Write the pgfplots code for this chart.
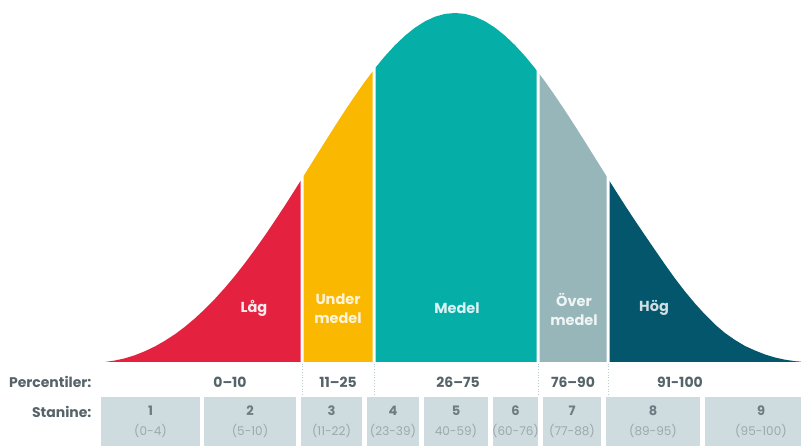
\documentclass[border=0pt]{standalone}
\usepackage{fontspec}
\setmainfont{Poppins}
\usepackage{pgfplots}
\pgfplotsset{compat=1.18}
\definecolor{cred}{HTML}{E4223F}
\definecolor{cyel}{HTML}{FBB800}
\definecolor{cteal}{HTML}{05AFA8}
\definecolor{cgrey}{HTML}{96B6BA}
\definecolor{cdark}{HTML}{03566B}
\definecolor{boxc}{HTML}{CEDCDF}
\definecolor{labc}{HTML}{56646A}
\definecolor{numc}{HTML}{6C7C82}
\definecolor{rngc}{HTML}{9BA8AC}
\definecolor{dotc}{HTML}{B9CDD1}
\begin{document}
\begin{tikzpicture}
\begin{axis}[width=801pt, height=446pt, scale only axis,
  xmin=0, xmax=801, ymin=0, ymax=446, hide axis, xtick=\empty, ytick=\empty, clip=true]
% ---- invisible frame (keeps the full canvas)
\addplot[draw=none, fill=none] coordinates {(0,0) (801,0) (801,446) (0,446)};
% ---- curve regions
\addplot[fill=cred, draw=none] coordinates {(105,84) (115,85.5) (125,87.7) (135,90.8) (145,94.8) (155,99.6) (165,105.3) (175,111.8) (185,119.3) (195,127.7) (205,137.0) (215,147.2) (225,158.3) (235,170.2) (245,183.0) (255,196.5) (265,210.6) (275,225.4) (285,240.6) (295,256.3) (300.5,265.0) (300.5,84)} -- cycle;
\addplot[fill=cyel, draw=none] coordinates {(303.5,84) (303.5,269.8) (305,272.2) (315,288.2) (325,304.2) (335,320.0) (345,335.4) (355,350.3) (365,364.5) (372.5,374.4) (372.5,84)} -- cycle;
\addplot[fill=cteal, draw=none] coordinates {(375.5,84) (375.5,378.4) (385,389.9) (395,400.8) (405,410.3) (415,418.3) (425,424.7) (435,429.3) (445,432.1) (455,433.0) (465,432.1) (475,429.3) (485,424.7) (495,418.3) (505,410.3) (515,400.8) (525,389.9) (535,377.7) (536.5,375.7) (536.5,84)} -- cycle;
\addplot[fill=cgrey, draw=none] coordinates {(539.5,84) (539.5,371.8) (545,364.5) (555,350.3) (565,335.4) (575,320.0) (585,304.2) (595,288.2) (605,272.2) (606.5,269.8) (606.5,84)} -- cycle;
\addplot[fill=cdark, draw=none] coordinates {(609.5,84) (609.5,265.0) (615,256.3) (625,240.6) (635,225.4) (645,210.6) (655,196.0) (665,181.5) (675,167.5) (685,154.5) (695,142.5) (705,131.5) (715,121.5) (725,113.0) (735,106.0) (745,100.0) (755,95.5) (765,91.5) (775,88.5) (785,86.3) (795,84.8) (805,84)} -- cycle;
% ---- dotted separators
\addplot[dotted, dotc, line width=0.8pt] coordinates {(302,51) (302,82)};
\addplot[dotted, dotc, line width=0.8pt] coordinates {(374,51) (374,82)};
\addplot[dotted, dotc, line width=0.8pt] coordinates {(538,51) (538,82)};
\addplot[dotted, dotc, line width=0.8pt] coordinates {(608,51) (608,82)};
% ---- stanine boxes
\addplot[fill=boxc, draw=none] coordinates {(101,0) (200,0) (200,49) (101,49)} -- cycle;
\addplot[fill=boxc, draw=none] coordinates {(204,0) (296,0) (296,49) (204,49)} -- cycle;
\addplot[fill=boxc, draw=none] coordinates {(301,0) (362,0) (362,49) (301,49)} -- cycle;
\addplot[fill=boxc, draw=none] coordinates {(367,0) (419,0) (419,49) (367,49)} -- cycle;
\addplot[fill=boxc, draw=none] coordinates {(424,0) (488,0) (488,49) (424,49)} -- cycle;
\addplot[fill=boxc, draw=none] coordinates {(493,0) (538,0) (538,49) (493,49)} -- cycle;
\addplot[fill=boxc, draw=none] coordinates {(543,0) (601,0) (601,49) (543,49)} -- cycle;
\addplot[fill=boxc, draw=none] coordinates {(606,0) (700,0) (700,49) (606,49)} -- cycle;
\addplot[fill=boxc, draw=none] coordinates {(705,0) (801,0) (801,49) (705,49)} -- cycle;
% ---- curve labels
\begin{scope}[every node/.style={font=\fontsize{14.5}{19}\selectfont\bfseries, text=white, align=center}]
\node[text=white!90!cred] at (axis cs:254,138) {Låg};
\node[text=white!85!cyel] at (axis cs:338,137) {Under\\medel};
\node[text=white!85!cteal] at (axis cs:457,138) {Medel};
\node[text=white!85!cgrey] at (axis cs:574,137) {Över\\medel};
\node[text=white!80!cdark] at (axis cs:654,138) {Hög};
\end{scope}
% ---- row labels
\begin{scope}[every node/.style={font=\fontsize{14}{16}\selectfont\bfseries, text=labc}]
\node[anchor=east] at (axis cs:95,64) {Percentiler:};
\node[anchor=east] at (axis cs:95,34) {Stanine:};
\node at (axis cs:230,64) {0--10};
\node at (axis cs:338,64) {11--25};
\node at (axis cs:458,64) {26--75};
\node at (axis cs:573,64) {76--90};
\node at (axis cs:680,64) {91-100};
\end{scope}
% ---- stanine numbers
\begin{scope}[every node/.style={font=\fontsize{13}{15}\selectfont\bfseries, text=numc}]
\node at (axis cs:150.5,35) {1};
\node at (axis cs:250,35) {2};
\node at (axis cs:331.5,35) {3};
\node at (axis cs:393,35) {4};
\node at (axis cs:456,35) {5};
\node at (axis cs:515.5,35) {6};
\node at (axis cs:572,35) {7};
\node at (axis cs:653,35) {8};
\node at (axis cs:761,35) {9};
\end{scope}
\begin{scope}[every node/.style={font=\fontsize{12}{14}\selectfont, text=rngc}]
\node at (axis cs:150.5,15) {(0-4)};
\node at (axis cs:250,15) {(5-10)};
\node at (axis cs:331.5,15) {(11-22)};
\node at (axis cs:393,15) {(23-39)};
\node at (axis cs:456,15) {40-59)};
\node at (axis cs:515.5,15) {(60-76)};
\node at (axis cs:572,15) {(77-88)};
\node at (axis cs:653,15) {(89-95)};
\node at (axis cs:761,15) {(95-100)};
\end{scope}
\end{axis}
\end{tikzpicture}
\end{document}
